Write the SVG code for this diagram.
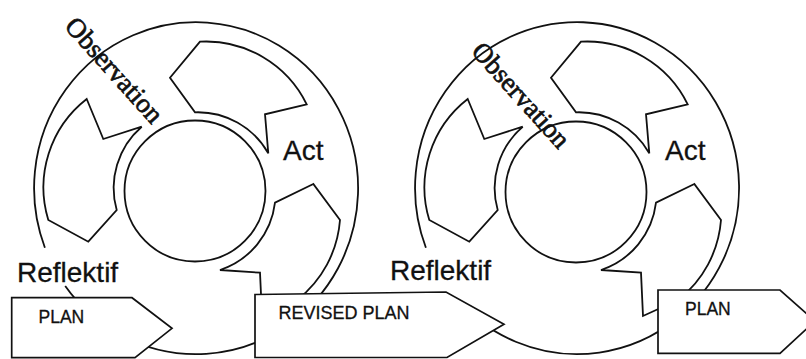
<svg xmlns="http://www.w3.org/2000/svg" width="806" height="359" viewBox="0 0 806 359">
  <style>
    .ln { fill: none; stroke: #111; stroke-width: 1.8; }
    .arw { fill: none; stroke: #111; stroke-width: 1.8; stroke-linejoin: miter; }
    .box { fill: #fff; stroke: #111; stroke-width: 1.7; stroke-linejoin: miter; }
    .sans { font-family: "Liberation Sans", Arial, sans-serif; fill: #111; stroke: #111; stroke-width: 0.3; }
    .serif { font-family: "Liberation Serif", "Times New Roman", serif; fill: #111; stroke: #111; stroke-width: 0.7; }
  </style>
  <defs>
    <path id="arrow-left" d="M 86.7,99 L 103.3,139 L 141.7,126.7 A 81 81 0 0 0 116.7,210 L 88.3,241.7 L 48.3,220 A 112 112 0 0 1 86.7,99 Z"/>
    <path id="arrow-top" d="M 200,41.7 L 170,77.7 L 195,112.3 A 81 81 0 0 1 268.3,153.3 L 265,114.3 L 306.7,104.3 A 112 112 0 0 0 200,41.7 Z"/>
    <path id="arrow-right" d="M 313.3,184 L 275,202.7 A 81 81 0 0 1 220,270 L 260,272.7 L 262,316 L 297,300 A 112 112 0 0 0 340,220 Z"/>
  </defs>

  <g id="cycle-1">
    <path class="ln" d="M 44.9,247.8 A 162 166 0 1 1 65.2,286"/>
    <circle class="ln" cx="195" cy="191" r="70.5"/>
  </g>
  <g id="cycle-2">
    <path class="ln" d="M 425.9,247.8 A 162 166 0 1 1 455.3,297.6"/>
    <circle class="ln" cx="576" cy="192" r="70.5"/>
  </g>

  <g id="connectors">
    <use href="#arrow-left" class="arw"/>
    <use href="#arrow-top" class="arw"/>
    <use href="#arrow-right" class="arw"/>
    <use href="#arrow-left" class="arw" transform="translate(381,0)"/>
    <use href="#arrow-top" class="arw" transform="translate(381,0)"/>
    <use href="#arrow-right" class="arw" transform="translate(381,0)"/>
  </g>

  <g id="plan-1">
    <path class="box" d="M 11.7,297.7 L 132,297.7 L 172,328.3 L 135,357.7 L 11.7,357.7 Z"/>
    <text class="sans" x="38.5" y="323" font-size="17.5">PLAN</text>
  </g>
  <g id="revised-plan">
    <path class="box" d="M 255,294.5 L 446,292 L 504,324.3 L 447,357.5 L 255,357.5 Z"/>
    <text class="sans" x="278.5" y="318.5" font-size="18">REVISED PLAN</text>
  </g>
  <g id="plan-2">
    <path class="box" d="M 658,290 L 780,290 L 815,321 L 780,353.3 L 658,353.3 Z"/>
    <text class="sans" x="685" y="315" font-size="17.5">PLAN</text>
  </g>

  <g id="observation-1">
    <text class="serif" font-size="27" transform="translate(63.6,27) rotate(48)">Observation</text>
  </g>
  <g id="act-1">
    <text class="sans" x="283" y="160" font-size="28">Act</text>
  </g>
  <g id="reflektif-1">
    <text class="sans" x="17" y="282" font-size="28">Reflektif</text>
  </g>
  <g id="observation-2">
    <text class="serif" font-size="27" transform="translate(470.2,52) rotate(48)">Observation</text>
  </g>
  <g id="act-2">
    <text class="sans" x="665" y="160" font-size="28">Act</text>
  </g>
  <g id="reflektif-2">
    <text class="sans" x="390" y="280" font-size="28">Reflektif</text>
  </g>
</svg>
